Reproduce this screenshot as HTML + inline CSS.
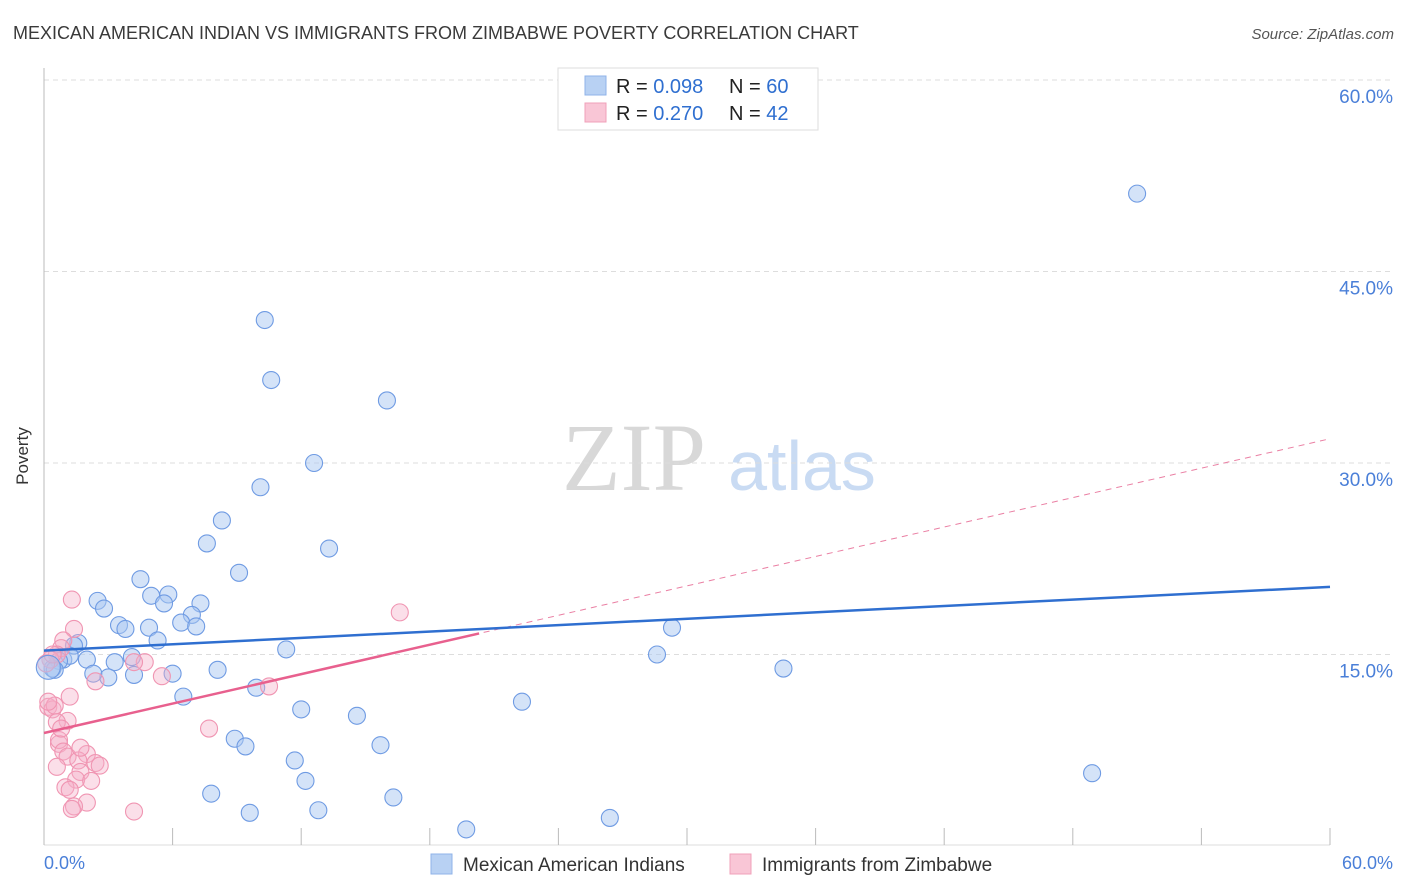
<!DOCTYPE html>
<html><head><meta charset="utf-8"><style>
body{margin:0;background:#fff;font-family:"Liberation Sans",sans-serif;}
svg{display:block}
</style></head><body>
<svg id="chart" width="1406" height="892" xmlns="http://www.w3.org/2000/svg">
<text x="13" y="39" font-size="18" fill="#3a3a3a">MEXICAN AMERICAN INDIAN VS IMMIGRANTS FROM ZIMBABWE POVERTY CORRELATION CHART</text>
<text x="1394" y="39" font-size="15" fill="#555" font-style="italic" text-anchor="end">Source: ZipAtlas.com</text>
<g>
<text x="634" y="490" font-size="96" font-family="Liberation Serif,serif" fill="#d8d8d8" text-anchor="middle">ZIP</text>
<text x="802" y="490" font-size="70" fill="#c9dbf3" text-anchor="middle">atlas</text>
</g>
<g id="grid"></g>
<line x1="44" y1="68" x2="44" y2="845" stroke="#bbb"/>
<line x1="44" y1="845" x2="1330" y2="845" stroke="#ddd"/>
<g id="xticks"></g>
<text x="28" y="456" font-size="17" fill="#333" transform="rotate(-90 28 456)" text-anchor="middle">Poverty</text>
<g id="trend"></g>
<g id="pts"></g>
<text x="44" y="869" font-size="18" fill="#4a7fd8">0.0%</text>
<text x="1393" y="869" font-size="18" fill="#4a7fd8" text-anchor="end">60.0%</text>
<g>
<rect x="558" y="68" width="260" height="62" fill="#fff" stroke="#ddd"/>
<rect x="585" y="76" width="21" height="19" fill="#b8d1f3" stroke="#8fb3e8"/>
<rect x="585" y="103" width="21" height="19" fill="#f9c6d6" stroke="#f0a0b9"/>
<text x="616" y="93" font-size="20" fill="#222">R = <tspan fill="#2f6fd0">0.098</tspan><tspan x="729">N = </tspan><tspan fill="#2f6fd0">60</tspan></text>
<text x="616" y="120" font-size="20" fill="#222">R = <tspan fill="#2f6fd0"> 0.270</tspan><tspan x="729">N = </tspan><tspan fill="#2f6fd0"> 42</tspan></text>
</g>
<g>
<rect x="431" y="854" width="21" height="20" fill="#b8d1f3" stroke="#8fb3e8"/>
<text x="463" y="871" font-size="19" fill="#333">Mexican American Indians</text>
<rect x="730" y="854" width="21" height="20" fill="#f9c6d6" stroke="#f0a0b9"/>
<text x="762" y="871" font-size="19" fill="#333">Immigrants from Zimbabwe</text>
</g>
</svg>
<script>
const yTicks=[15,30,45,60];
const yTickLabels=["15.0%","30.0%","45.0%","60.0%"];
const xTickVals=[0,6,12,18,24,30,36,42,48,54,60];
const blueX=[51.0,10.3,10.6,16.0,12.6,10.1,13.3,8.3,7.6,9.1,4.5,5.0,5.8,5.6,7.3,2.5,2.8,6.9,6.4,7.1,3.5,3.8,4.9,5.3,1.6,1.4,0.9,1.2,2.0,0.7,0.4,0.5,3.3,4.2,3.0,2.3,4.1,6.0,8.1,11.3,29.3,28.6,34.5,6.5,9.9,12.0,14.6,22.3,8.9,9.4,15.7,11.7,12.2,48.9,7.8,16.3,9.6,12.8,19.7,26.4];
const blueY=[51.1,41.2,36.5,34.9,30.0,28.1,23.3,25.5,23.7,21.4,20.9,19.6,19.7,19.0,19.0,19.2,18.6,18.1,17.5,17.2,17.3,17.0,17.1,16.1,15.9,15.7,14.6,14.9,14.6,14.5,13.9,13.8,14.4,13.4,13.2,13.5,14.8,13.5,13.8,15.4,17.1,15.0,13.9,11.7,12.4,10.7,10.2,11.3,8.4,7.8,7.9,6.7,5.1,5.7,4.1,3.8,2.6,2.8,1.3,2.2];
const pinkX=[1.3,1.4,0.9,0.8,0.6,0.3,0.1,4.7,4.2,5.5,2.4,1.2,16.6,10.5,0.2,0.4,0.5,1.1,0.6,7.7,0.7,0.7,0.9,1.1,2.0,0.6,1.6,2.4,2.6,1.7,1.5,2.2,1.0,1.2,2.0,1.4,1.3,4.2,0.2,0.8,1.7,0.4];
const pinkY=[19.3,17.0,16.1,15.5,15.0,14.6,14.3,14.4,14.4,13.3,12.9,11.7,18.3,12.5,10.9,10.7,11.0,9.8,9.7,9.2,8.0,8.3,7.4,7.0,7.2,6.2,6.7,6.5,6.3,5.8,5.2,5.1,4.6,4.4,3.4,3.1,2.9,2.7,11.3,9.2,7.7,15.0];
const blueTrend=[15.3,20.3];
const pinkTrend=[8.85,31.9];
const pinkSolidEnd=[20.3];
const NS="http://www.w3.org/2000/svg";
const sx=v=>44+v*(1286/60);
const sy=v=>846-v*(191.5/15);
function mk(tag,at,parent){const e=document.createElementNS(NS,tag);for(const k in at)e.setAttribute(k,at[k]);document.getElementById(parent).appendChild(e);return e;}
yTicks.forEach((t,i)=>{
 const l=mk('line',{x1:44,x2:1394,y1:sy(t),y2:sy(t),stroke:'#ddd','stroke-dasharray':'5,4'},'grid');
 
 
 const tx=mk('text',{x:1393,y:sy(t)+23,'font-size':19,fill:'#4a7fd8','text-anchor':'end'},'grid');
 tx.textContent=yTickLabels[i];
 
 
});
xTickVals.forEach(v=>{
 const l=mk('line',{x1:sx(v),x2:sx(v),y1:828,y2:845,stroke:'#bbb'},'xticks');
 
 
});
const pt=(x)=>pinkTrend[0]+(pinkTrend[1]-pinkTrend[0])*x/60;
let ln=mk('line',{x1:sx(0),y1:sy(pinkTrend[0]),x2:sx(60),y2:sy(pinkTrend[1]),stroke:'#ea7fa3','stroke-width':1,'stroke-dasharray':'6,5'},'trend');


function dots(xs,ys,fill,stroke,name){
 xs.forEach((x,i)=>{
  const c=mk('circle',{cx:sx(x),cy:sy(ys[i]),r:8.5,fill:fill,stroke:stroke,'stroke-width':1.1},'pts');
  
  
 });
}
dots(blueX,blueY,'rgba(170,200,242,0.5)','#6f9be3','blue-point');
dots(pinkX,pinkY,'rgba(246,176,200,0.4)','#f095b2','pink-point');
const big=mk('circle',{cx:sx(0.2),cy:sy(14.0),r:12,fill:'rgba(170,200,242,0.5)',stroke:'#6f9be3','stroke-width':1.1},'pts');


ln=mk('line',{x1:sx(0),y1:sy(blueTrend[0]),x2:sx(60),y2:sy(blueTrend[1]),stroke:'#2f6fd0','stroke-width':2.5},'pts');


ln=mk('line',{x1:sx(0),y1:sy(pinkTrend[0]),x2:sx(pinkSolidEnd[0]),y2:sy(pt(pinkSolidEnd[0])),stroke:'#e8608e','stroke-width':2.5},'pts');


</script>
</body></html>
